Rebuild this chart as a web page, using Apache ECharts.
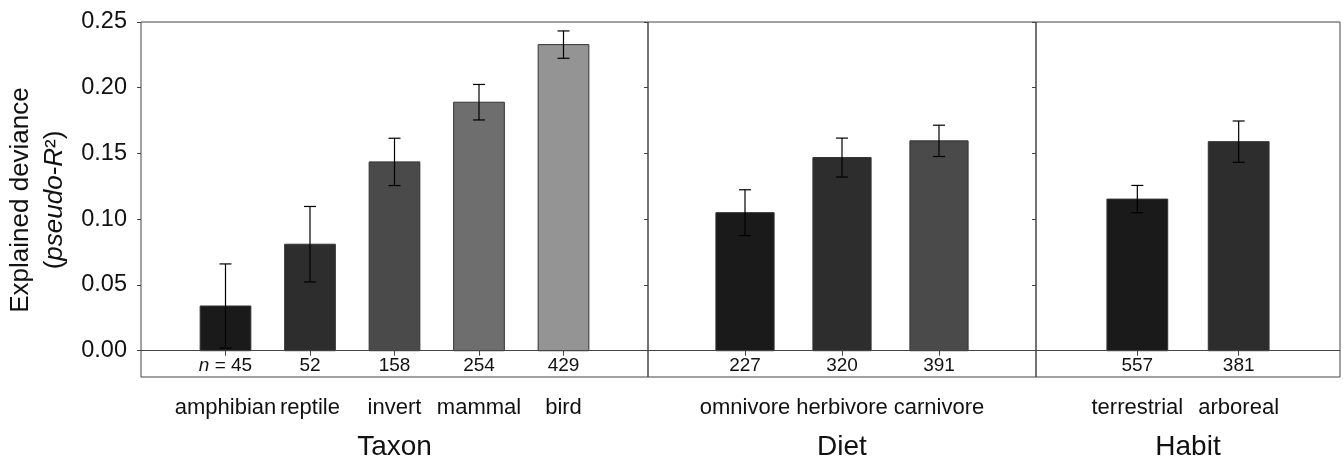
<!DOCTYPE html>
<html>
<head>
<meta charset="utf-8">
<script src="https://cdn.jsdelivr.net/npm/echarts@6/dist/echarts.min.js"></script>
<style>
html,body{margin:0;padding:0;background:#fff;}
#chart{width:1343px;height:458px;}
</style>
</head>
<body>
<div id="chart"></div>
<script>
// ---- data ----
const taxonCats = ['amphibian', 'reptile', 'invert', 'mammal', 'bird'];
const taxonValues = [0.034, 0.081, 0.1436, 0.189, 0.2328];
const taxonErr = [0.032, 0.0287, 0.018, 0.0135, 0.0104];
const taxonN = [45, 52, 158, 254, 429];

const dietCats = ['omnivore', 'herbivore', 'carnivore'];
const dietValues = [0.105, 0.1469, 0.1596];
const dietErr = [0.0174, 0.0148, 0.0119];
const dietN = [227, 320, 391];

const habitCats = ['terrestrial', 'arboreal'];
const habitValues = [0.1153, 0.159];
const habitErr = [0.0104, 0.0157];
const habitN = [557, 381];

const yTicks = [0, 0.05, 0.10, 0.15, 0.20, 0.25];
const panelTitles = ['Taxon', 'Diet', 'Habit'];

// ---- styles ----
const FONT = 'Liberation Sans, Arial, Helvetica, sans-serif';
const barColors = ['#1a1a1a', '#2d2d2d', '#4a4a4a', '#6e6e6e', '#949494'];
const frameColor = '#444';
const nLabelLevel = -0.0115;

const panels = [
  {cats: taxonCats, vals: taxonValues, err: taxonErr, n: taxonN},
  {cats: dietCats, vals: dietValues, err: dietErr, n: dietN},
  {cats: habitCats, vals: habitValues, err: habitErr, n: habitN}
];
const grids = [
  {left: 141, right: 1343 - 648, top: 22, bottom: 458 - 377},
  {left: 648, right: 1343 - 1036, top: 22, bottom: 458 - 377},
  {left: 1036, right: 3, top: 22, bottom: 458 - 377}
];

const option = {
  animation: false,
  backgroundColor: '#fff',
  grid: grids.map(g => Object.assign({show: true, borderColor: frameColor, borderWidth: 1,
    backgroundColor: 'transparent', containLabel: false, outerBoundsMode: 'none'}, g)),
  xAxis: panels.map((p, i) => {
    const pos = p.cats.map((c, k) => k + 1);
    return {
      type: 'value', gridIndex: i, min: 0, max: p.cats.length + 1, interval: 1,
      name: panelTitles[i], nameLocation: 'middle', nameGap: 56,
      nameTextStyle: {fontSize: 28, fontFamily: FONT, color: '#111'},
      axisLine: {show: false},
      splitLine: {show: false},
      axisTick: {show: true, inside: false, length: 5, customValues: pos, lineStyle: {color: frameColor, width: 1}},
      axisLabel: {show: true, customValues: pos, margin: 20, fontSize: 22, fontFamily: FONT, color: '#111',
        formatter: v => p.cats[Math.round(v) - 1] || ''}
    };
  }),
  yAxis: panels.map((p, i) => ({
    type: 'value', gridIndex: i, min: -0.02, max: 0.25,
    axisLine: {show: false},
    splitLine: {show: false},
    axisTick: {show: true, inside: false, length: 4, customValues: yTicks, lineStyle: {color: frameColor, width: 1}},
    axisLabel: {show: i === 0, customValues: yTicks, margin: 14, fontSize: 23.5, fontFamily: FONT, color: '#111',
      formatter: v => v.toFixed(2)}
  })),
  series: panels.map((p, i) => ({
    type: 'custom', xAxisIndex: i, yAxisIndex: i,
    data: p.cats.map((c, k) => [k + 1, p.vals[k], p.err[k], p.n[k]]),
    renderItem: function (params, api) {
      const x = api.value(0), v = api.value(1), e = api.value(2), n = api.value(3);
      const tl = api.coord([x - 0.3, v]);
      const br = api.coord([x + 0.3, 0]);
      const top = api.coord([x, v + e]);
      const bot = api.coord([x, v - e]);
      const lab = api.coord([x, nLabelLevel]);
      const cap = 6;
      const first = (i === 0 && params.dataIndex === 0);
      return {
        type: 'group',
        children: [
          {type: 'rect', shape: {x: tl[0], y: tl[1], width: br[0] - tl[0], height: br[1] - tl[1]},
            style: {fill: barColors[params.dataIndex], stroke: '#333', lineWidth: 1}},
          {type: 'line', shape: {x1: top[0], y1: top[1], x2: bot[0], y2: bot[1]}, style: {stroke: '#000', lineWidth: 1.2}},
          {type: 'line', shape: {x1: top[0] - cap, y1: top[1], x2: top[0] + cap, y2: top[1]}, style: {stroke: '#000', lineWidth: 1.2}},
          {type: 'line', shape: {x1: bot[0] - cap, y1: bot[1], x2: bot[0] + cap, y2: bot[1]}, style: {stroke: '#000', lineWidth: 1.2}},
          {type: 'text', x: lab[0], y: lab[1],
            style: {text: first ? '{it|n} = ' + n : String(n),
              rich: {it: {fontStyle: 'italic', fontSize: 19, fontFamily: FONT, fill: '#111'}},
              fontSize: 19, fontFamily: FONT, fill: '#111', align: 'center', verticalAlign: 'middle'}}
        ]
      };
    },
    markLine: {
      silent: true, symbol: 'none', label: {show: false},
      lineStyle: {color: frameColor, width: 1, type: 'solid'},
      data: [{yAxis: 0}]
    }
  })),
  graphic: [{
    type: 'text', x: 38, y: 200, rotation: Math.PI / 2,
    style: {
      text: '{a|Explained deviance}\n{a|(}{i|pseudo-R}{a|²)}',
      align: 'center', verticalAlign: 'middle',
      rich: {
        a: {fontSize: 26, fontFamily: FONT, fill: '#111', lineHeight: 34},
        i: {fontSize: 26, fontFamily: FONT, fill: '#111', fontStyle: 'italic', lineHeight: 34}
      }
    }
  }]
};

const chart = echarts.init(document.getElementById('chart'), null, {renderer: 'canvas'});
chart.setOption(option);
</script>
</body>
</html>
